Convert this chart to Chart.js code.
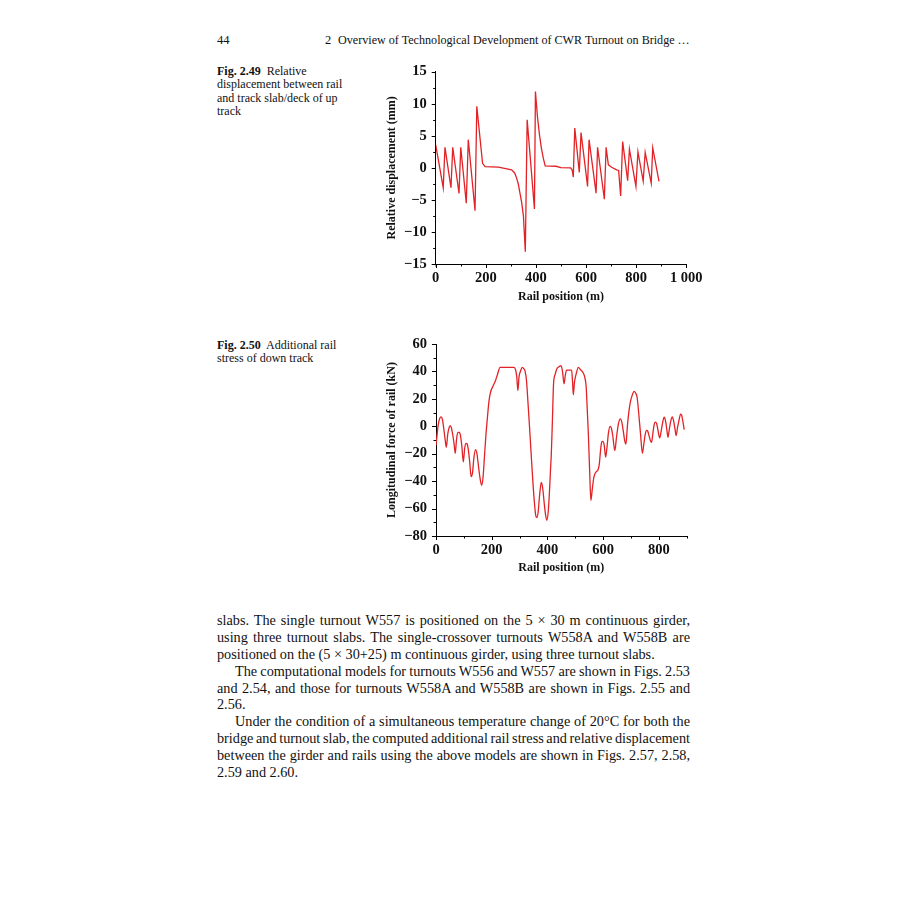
<!DOCTYPE html>
<html>
<head>
<meta charset="utf-8">
<script src="https://cdn.jsdelivr.net/npm/chart.js"></script>
<style>
html,body{margin:0;padding:0;background:#fff;}
body{width:900px;height:900px;position:relative;overflow:hidden;font-family:"Liberation Serif","Times New Roman",serif;color:#111;}
.abs{position:absolute;white-space:nowrap;}
.cap{position:absolute;left:217px;font-size:12px;line-height:13.33px;white-space:nowrap;}
.cap b{font-weight:bold;}
#body{position:absolute;left:217px;top:612px;width:473px;}
.ln{height:16.9px;line-height:16.9px;white-space:nowrap;}
.chartbox{position:absolute;}
</style>
</head>
<body>
<div class="abs" id="pgnum" style="left:217px;top:33px;font-size:12.5px;line-height:15px;">44</div>
<div class="abs" id="chapnum" style="left:325px;top:33px;font-size:12.5px;line-height:15px;">2</div>
<div class="abs" id="runhead" style="left:338px;top:33px;font-size:12.5px;line-height:15px;"><span>Overview of Technological Development of CWR Turnout on Bridge …</span></div>

<div class="cap" style="top:65px;"><b>Fig. 2.49</b>&nbsp; Relative<br>displacement between rail<br>and track slab/deck of up<br>track</div>
<div class="cap" style="top:338.5px;"><b>Fig. 2.50</b>&nbsp; Additional rail<br>stress of down track</div>

<div class="chartbox" style="left:380px;top:55px;width:335px;height:260px;"><canvas id="c1"></canvas></div>
<div class="chartbox" style="left:380px;top:328px;width:320px;height:260px;"><canvas id="c2"></canvas></div>

<div id="body">
<div class="ln j"><span>slabs. The single turnout W557 is positioned on the 5 × 30 m continuous girder,</span></div>
<div class="ln j"><span>using three turnout slabs. The single-crossover turnouts W558A and W558B are</span></div>
<div class="ln" id="refline"><span>positioned on the (5 × 30+25) m continuous girder, using three turnout slabs.</span></div>
<div class="ln j ind"><span>The computational models for turnouts W556 and W557 are shown in Figs. 2.53</span></div>
<div class="ln j"><span>and 2.54, and those for turnouts W558A and W558B are shown in Figs. 2.55 and</span></div>
<div class="ln"><span>2.56.</span></div>
<div class="ln j ind"><span>Under the condition of a simultaneous temperature change of 20°C for both the</span></div>
<div class="ln j"><span>bridge and turnout slab, the computed additional rail stress and relative displacement</span></div>
<div class="ln j"><span>between the girder and rails using the above models are shown in Figs. 2.57, 2.58,</span></div>
<div class="ln"><span>2.59 and 2.60.</span></div>
</div>

<script>
// ---------- Data: Fig. 2.49 (relative displacement, up track) ----------
const dispPosition = [0, 30, 37, 61, 68, 93, 100, 122, 130, 157,
  164, 187, 197, 250, 303, 315, 323, 330, 336, 343,
  350, 357.6, 365, 394, 398, 406, 414, 422, 430, 437,
  480, 500, 539, 545, 549, 555, 573, 580, 606, 612,
  640, 646, 673, 680, 689, 702, 722, 730, 738, 746,
  766, 773, 799, 807, 828, 836, 860, 866, 891];
const dispValue = [3.6, -3.1, 3.2, -3.1, 3.2, -4.0, 3.2, -5.5, 4.4, -6.7,
  9.6, 0.7, 0.2, 0.1, -0.3, -0.8, -1.6, -2.6, -3.9, -5.4,
  -7.5, -13.1, 7.5, -6.4, 11.9, 8.0, 5.2, 3.0, 1.4, 0.3,
  0.25, 0.05, 0, -0.4, -1.45, 6.2, -0.7, 5.5, -2.9, 4.4,
  -3.95, 3.2, -4.9, 3.2, 0.47, 0.1, -0.3, -0.4, -4.4, 4.1,
  -2.0, 2.9, -2.9, 2.5, -2.1, 2.4, -2.4, 3.1, -2.1];

// ---------- Data: Fig. 2.50 (longitudinal rail force, down track) ----------
const forcePosition = [0, 3, 8, 13, 18, 23, 28, 33, 37, 42,
  47, 51, 55, 60, 65, 69, 74, 79, 84, 88,
  93, 98, 103, 108, 112, 116, 121, 126, 131, 136,
  142, 147, 153, 159, 164, 169, 174, 179, 184, 190,
  196, 204, 213, 221, 230, 240, 280, 286, 290, 294,
  298, 303, 310, 315, 320, 325, 330, 335, 341, 347,
  353, 358, 362, 367, 372, 378, 383, 388, 393, 398,
  403, 408, 411, 414, 418, 422, 428, 434, 442, 449,
  454, 458, 460, 464, 469, 480, 487, 490, 493, 497,
  503, 511, 520, 529, 535, 539, 543, 547, 552, 556,
  561, 566, 571, 576, 581, 586, 591, 595, 599, 604,
  609, 614, 619, 625, 629, 634, 642, 648, 655, 662,
  667, 672, 677, 682, 687, 692, 698, 705, 711, 716,
  722, 728, 734, 741, 746, 751, 756, 760, 765, 770,
  774, 778, 783, 787, 792, 797, 803, 808, 813, 819,
  824, 829, 833, 837, 842, 848, 853, 858, 862, 867,
  872, 878, 882, 886, 891];
const forceValue = [-14, -8, 1, 5.5, 6.8, 5, -2, -10, -15.3, -6,
  -1, 0.5, -1, -6, -13, -19.7, -9, -4.5, -4.4, -7,
  -15, -26, -16, -12.4, -13, -17, -26, -36.7, -34, -23,
  -17, -20, -30, -39, -43, -37, -22, -7, 5, 18,
  25, 29, 33, 38, 43, 43, 43, 41, 36, 26,
  36, 40, 43, 42, 40, 33, 18, 2, -18, -38,
  -55, -65, -66.5, -62, -50, -41, -45, -55, -64, -68.5,
  -62, -45, -32, -20, 5, 31, 38, 42, 43.5, 44.3,
  40, 33, 31, 37, 41, 41, 41, 33, 23, 32,
  38, 43, 41, 38.7, 35, 29, 12, -6, -35, -54,
  -46, -38, -34.5, -33, -32, -28, -17, -11.5, -11, -14,
  -22.5, -15, -5, 0, -1, -6, -17.7, -8, 2, 5.4,
  3, -3, -10, -13, 0, 10, 18, 23, 25.5, 24.5,
  21, 9, -5, -19.7, -13, -6, -3, -3.5, -7, -10.5,
  -11.7, -6, 1, 3, 2, -3, -8.5, -4, 2, 6.6,
  4, -3, -8, -3, 3, 6.8, 4, -2, -6.8, -1,
  4, 8.8, 8, 4, -2.4];

// ---------- Axis tick labels ----------
const dispYLabels = [-15, -10, -5, 0, 5, 10, 15];
const dispXLabels = [0, 200, 400, 600, 800, 1000];
const forceYLabels = [-80, -60, -40, -20, 0, 20, 40, 60];
const forceXLabels = [0, 200, 400, 600, 800];

const LINE_RED = 'rgb(226,34,38)';
const TICK_FONT = {family: '"Liberation Serif","Times New Roman",serif', size: 14.5, weight: 'bold', lineHeight: 1.2};
const TITLE_FONT = {family: '"Liberation Serif","Times New Roman",serif', size: 12, weight: 'bold', lineHeight: 1.2};

function fmt(v) {
  let s = (v === 1000) ? '1 000' : String(Math.abs(v));
  return v < 0 ? '\u2212' + s : s;
}
function labelIn(list) {
  return function (v) {
    for (const l of list) if (Math.abs(l - v) < 1e-6) return fmt(l);
    return '';
  };
}

const tickMarks = {
  id: 'tickMarks',
  afterDraw(chart) {
    const ctx = chart.ctx, a = chart.chartArea;
    const xs = chart.scales.x, ys = chart.scales.y;
    ctx.save();
    ctx.strokeStyle = '#000';
    ctx.lineWidth = 1;
    xs.ticks.forEach(t => {
      const px = Math.round(xs.getPixelForValue(t.value)) + 0.5;
      const len = t.label === '' ? 2.5 : 4;
      ctx.beginPath(); ctx.moveTo(px, a.bottom); ctx.lineTo(px, a.bottom + len); ctx.stroke();
    });
    ys.ticks.forEach(t => {
      const py = Math.round(ys.getPixelForValue(t.value)) + 0.5;
      const len = t.label === '' ? 2.5 : 4;
      ctx.beginPath(); ctx.moveTo(a.left, py); ctx.lineTo(a.left - len, py); ctx.stroke();
    });
    ctx.beginPath(); ctx.moveTo(a.left + 0.5, a.bottom); ctx.lineTo(a.left + 0.5, a.bottom + 3); ctx.stroke();
    ctx.restore();
  }
};

function makeChart(id, xs, ys, cfg) {
  const pts = xs.map((x, i) => ({x: x, y: ys[i]}));
  return new Chart(document.getElementById(id), {
    type: 'line',
    data: {datasets: [{
      data: pts,
      borderColor: LINE_RED,
      borderWidth: 1.3,
      pointRadius: 0,
      fill: false,
      tension: 0,
      cubicInterpolationMode: cfg.smooth ? 'monotone' : 'default'
    }]},
    options: {
      responsive: true,
      maintainAspectRatio: false,
      animation: false,
      events: [],
      layout: {padding: {left: 0, top: cfg.padTop, right: cfg.padRight, bottom: 0}},
      plugins: {legend: {display: false}, tooltip: {enabled: false}},
      scales: {
        x: {
          type: 'linear', min: cfg.xMin, max: cfg.xMax,
          border: {display: true, color: '#000', width: 1},
          grid: {display: true, drawOnChartArea: false, drawTicks: true, tickLength: 4, tickColor: 'rgba(0,0,0,0)'},
          ticks: {stepSize: cfg.xStep, autoSkip: false, maxRotation: 0, minRotation: 0, padding: cfg.xTickPad,
                  color: '#111', font: TICK_FONT, callback: labelIn(cfg.xLabels)},
          title: {display: true, text: 'Rail position (m)', color: '#111', font: TITLE_FONT,
                  padding: {top: 0, bottom: cfg.xTitlePad}},
          afterFit(s) { s.height = cfg.xHeight; s.paddingLeft = 0; s.paddingRight = 0; }
        },
        y: {
          type: 'linear', min: cfg.yMin, max: cfg.yMax,
          border: {display: true, color: '#000', width: 1},
          grid: {display: true, drawOnChartArea: false, drawTicks: true, tickLength: 4, tickColor: 'rgba(0,0,0,0)'},
          ticks: {stepSize: cfg.yStep, autoSkip: false, padding: 5, color: '#111', font: TICK_FONT,
                  callback: labelIn(cfg.yLabels)},
          title: {display: true, text: cfg.yTitle, color: '#111', font: TITLE_FONT,
                  padding: {top: cfg.yTitlePad, bottom: 0}},
          afterFit(s) { s.width = cfg.yWidth; s.paddingTop = 0; s.paddingBottom = 0; }
        }
      }
    },
    plugins: [tickMarks]
  });
}

makeChart('c1', dispPosition, dispValue, {
  smooth: false, xMin: 0, xMax: 1000, xStep: 100, xLabels: dispXLabels,
  yMin: -15, yMax: 15, yStep: 2.5, yLabels: dispYLabels,
  yTitle: 'Relative displacement (mm)',
  padTop: 16.7, padRight: 28.7, yWidth: 55.7, xHeight: 51, xTickPad: 1.6, xTitlePad: 10.5, yTitlePad: 4.5
});
makeChart('c2', forcePosition, forceValue, {
  smooth: true, xMin: 0, xMax: 900, xStep: 100, xLabels: forceXLabels,
  yMin: -80, yMax: 60, yStep: 10, yLabels: forceYLabels,
  yTitle: 'Longitudinal force of rail (kN)',
  padTop: 16, padRight: 13.3, yWidth: 56, xHeight: 52, xTickPad: 1.3, xTitlePad: 12.5, yTitlePad: 4.5
});

// ---------- text fitting ----------
(function () {
  const rh = document.querySelector('#runhead span');
  const w0 = rh.getBoundingClientRect().width;
  document.getElementById('runhead').style.fontSize = (12.5 * 352 / w0) + 'px';

  const body = document.getElementById('body');
  body.style.fontSize = '100px';
  const refw = document.querySelector('#refline span').getBoundingClientRect().width;
  const fs = 100 * 438 / refw;
  body.style.fontSize = fs + 'px';
  document.querySelectorAll('#body .ln').forEach(ln => {
    const ind = ln.classList.contains('ind') ? 18 : 0;
    ln.style.paddingLeft = ind + 'px';
    if (ln.classList.contains('j')) {
      const sp = ln.querySelector('span');
      const w = sp.getBoundingClientRect().width;
      const n = (sp.textContent.match(/ /g) || []).length;
      sp.style.wordSpacing = ((473 - ind - w) / n) + 'px';
    }
  });
})();
</script>
</body>
</html>
